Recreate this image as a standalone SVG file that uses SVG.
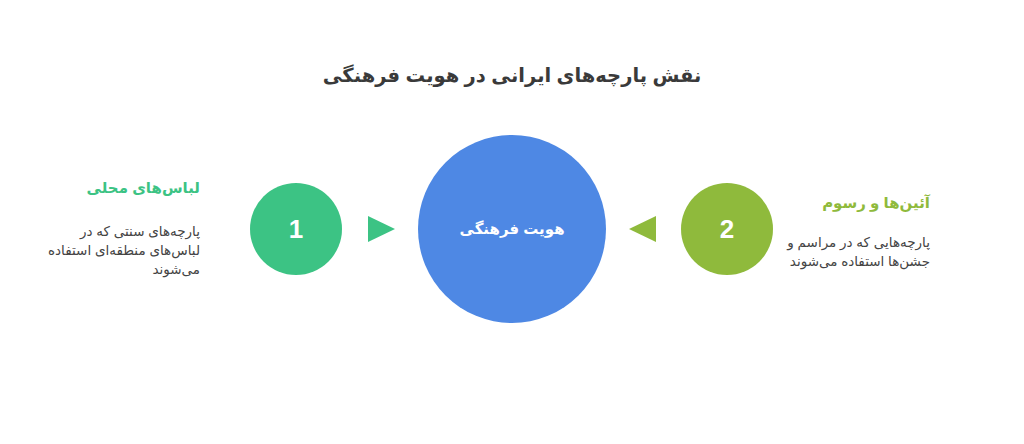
<svg xmlns="http://www.w3.org/2000/svg" width="1024" height="444" viewBox="0 0 1024 444">
<style>
text{font-family:"Liberation Sans","DejaVu Sans",sans-serif}
.title{font-size:19.5px;font-weight:bold;fill:#3a3a3a}
.num{font-size:26px;font-weight:bold;fill:#ffffff}
.hd{font-size:15px;font-weight:bold}
.desc{font-size:13.5px;fill:#444444}
</style>
<rect width="1024" height="444" fill="#ffffff"/>
<text class="title" x="512" y="82" text-anchor="middle">نقش پارچه‌های ایرانی در هویت فرهنگی</text>
<g id="center">
<circle cx="512" cy="229" r="94" fill="#4e88e4"/>
<text x="512" y="234" text-anchor="middle" style="font-size:15px;font-weight:bold;fill:#ffffff">هویت فرهنگی</text>
</g>
<g id="node1">
<circle cx="296" cy="229" r="46" fill="#3cc384"/>
<text class="num" x="296" y="238" text-anchor="middle">1</text>
<text class="hd" x="200" y="193" text-anchor="end" fill="#3cc384">لباس‌های محلی</text>
<text class="desc" x="200" y="236" text-anchor="end">پارچه‌های سنتی که در</text>
<text class="desc" x="200" y="255" text-anchor="end">لباس‌های منطقه‌ای استفاده</text>
<text class="desc" x="200" y="274" text-anchor="end">می‌شوند</text>
</g>
<g id="node2">
<circle cx="727" cy="229" r="46" fill="#8fba3c"/>
<text class="num" x="727" y="238" text-anchor="middle">2</text>
<text class="hd" x="930" y="208" text-anchor="end" fill="#8fba3c">آئین‌ها و رسوم</text>
<text class="desc" x="930" y="247" text-anchor="end">پارچه‌هایی که در مراسم و</text>
<text class="desc" x="930" y="266" text-anchor="end">جشن‌ها استفاده می‌شوند</text>
</g>
<g id="connectors">
<polygon points="368,216 395,229 368,242" fill="#3cc384"/>
<polygon points="656,216 629,229 656,242" fill="#8fba3c"/>
</g>
</svg>
